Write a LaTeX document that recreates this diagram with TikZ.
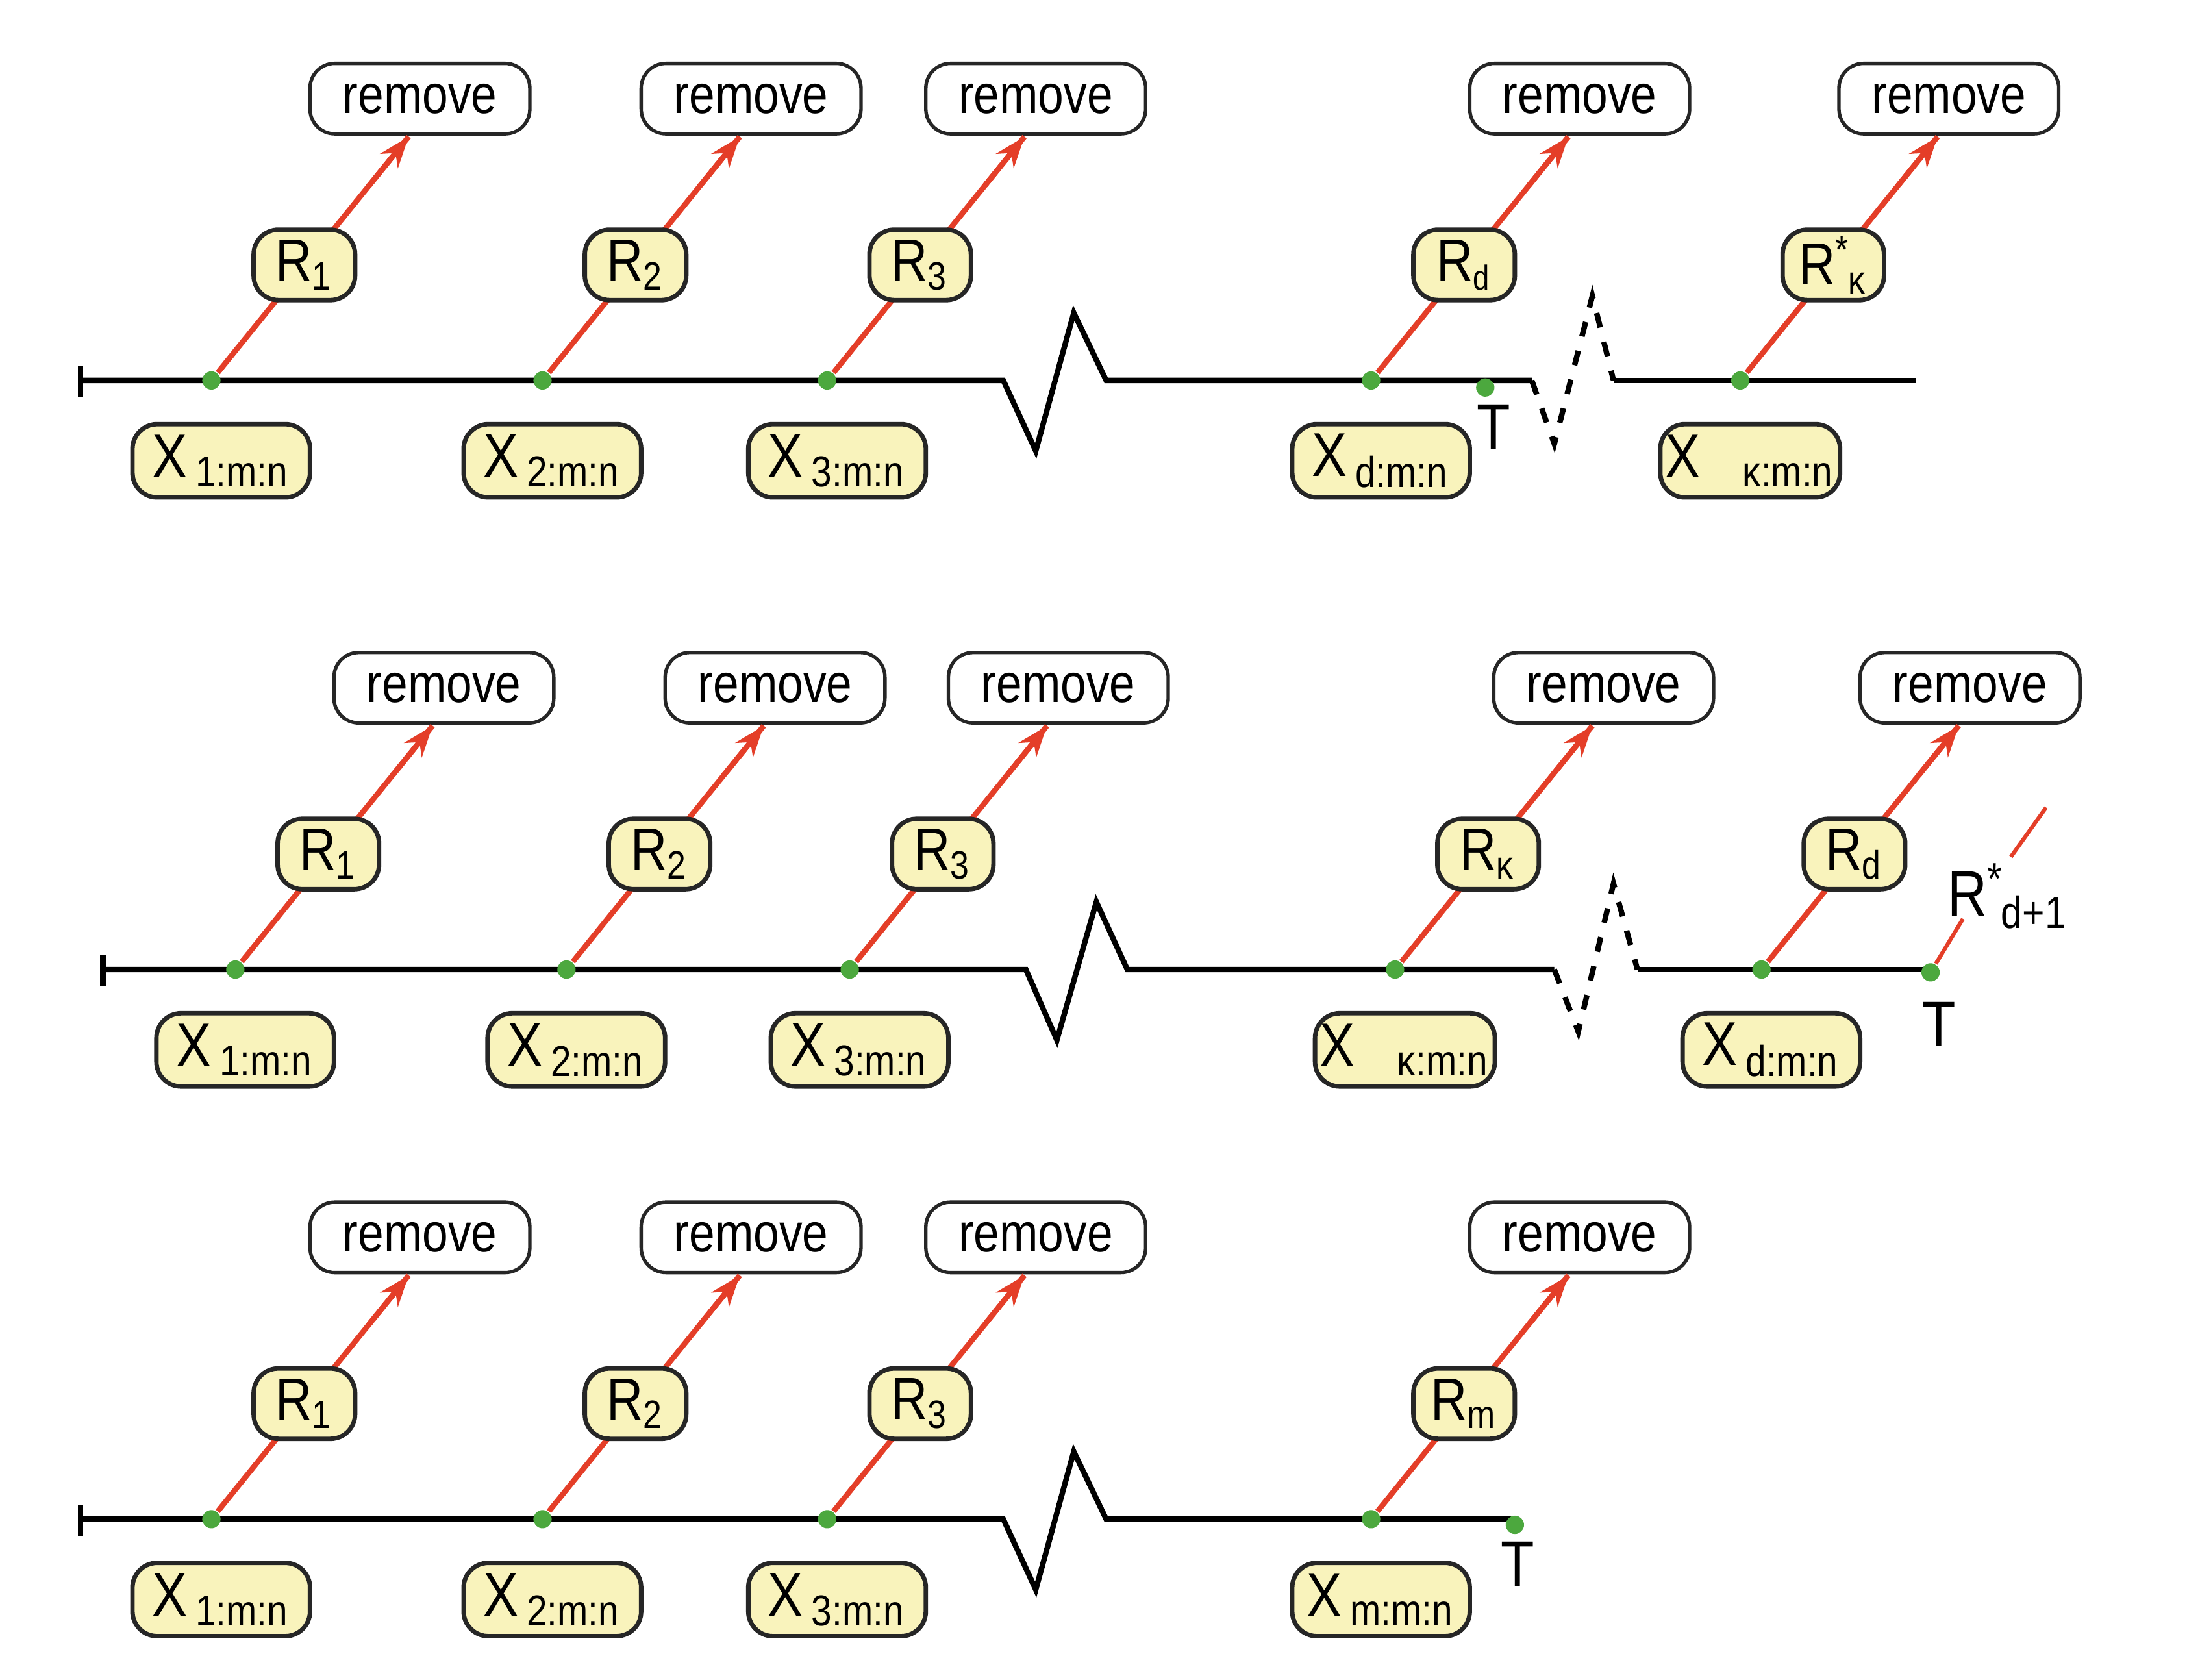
\documentclass[tikz,border=0pt]{standalone}
\usepackage{fontspec}
\setmainfont[FakeStretch=0.85]{Liberation Sans}
\usetikzlibrary{arrows.meta,calc}
\definecolor{boxfill}{RGB}{249,243,188}
\definecolor{dotgreen}{RGB}{76,168,62}
\definecolor{linered}{RGB}{228,62,40}
\tikzset{
  rbox/.style={draw=black!85, fill=boxfill, line width=0.9pt, rounded corners=5pt,
    minimum width=7.2mm, minimum height=5mm, inner sep=1pt, font=\fontsize{12}{12}\selectfont},
  xbox/.style={rbox, minimum width=12.6mm, minimum height=5.2mm, font=\fontsize{12.5}{12.5}\selectfont},
  rmbox/.style={draw=black!85, fill=white, line width=0.7pt, rounded corners=5pt,
    minimum width=15.6mm, minimum height=5mm, font=\fontsize{11}{11}\selectfont},
  dot/.style={circle, fill=dotgreen, inner sep=0pt, minimum size=1.3mm},
  redline/.style={linered, line width=1.1pt},
  axis/.style={line width=1.1pt, black},
  ttext/.style={font=\fontsize{13}{13}\selectfont}
}
% one removal stage: name, x, y, R label, X label
\newcommand\stage[5]{%
  \node[dot] (#1d) at (#2,#3) {};
  \coordinate (#1t) at (#2+140,#3-173);
  \node[rmbox] (#1m) at (#2+148,#3-200) {remove};
  \node[xbox] (#1x) at (#2+7,#3+57) {#5};
  \draw[redline] (#1d) -- (#1t);
  \draw[redline, -{Stealth[length=2.2mm,width=1.6mm]}] ($(#1d)!0.8!(#1t)$) -- (#1t);
  \node[rbox] (#1r) at (#2+66,#3-82) {#4};
}
\newcommand\Rstar[1]{R\textsuperscript{*}\kern-0.05em\textsubscript{#1}}
\begin{document}
\begin{tikzpicture}[x=0.1mm, y=-0.1mm]
\useasboundingbox[fill=white] (0,0) rectangle (1552,1192);

% first row
\draw[axis] (57,260) -- (57,282);
\draw[axis] (57,270) -- (712,270) -- (735,320) -- (762,222) -- (785,270) -- (1087,270);
\draw[axis, dashed] (1087,270) -- (1103,315) -- (1130,210) -- (1145,270);
\draw[axis] (1145,270) -- (1360,270);
\stage{a1}{150}{270}{R\textsubscript{1}}{X\hspace{0.6mm}\textsubscript{1:m:n}}
\stage{a2}{385}{270}{R\textsubscript{2}}{X\hspace{0.6mm}\textsubscript{2:m:n}}
\stage{a3}{587}{270}{R\textsubscript{3}}{X\hspace{0.6mm}\textsubscript{3:m:n}}
\stage{a4}{973}{270}{R\textsubscript{\scriptsize d}}{X\hspace{0.6mm}\textsubscript{d:m:n}}
\stage{a5}{1235}{270}{\Rstar{κ}}{X\hspace{3mm}\textsubscript{κ:m:n}}
\node[dot] (aT) at (1054,275) {};
\node[ttext] (aTl) at (1060,303) {T};

% second row
\draw[axis] (73,678) -- (73,700);
\draw[axis] (73,688) -- (728,688) -- (750,738) -- (778,640) -- (800,688) -- (1103,688);
\draw[axis, dashed] (1103,688) -- (1120,732) -- (1145,627) -- (1162,688);
\draw[axis] (1162,688) -- (1370,688);
\stage{b1}{167}{688}{R\textsubscript{1}}{X\hspace{0.6mm}\textsubscript{1:m:n}}
\stage{b2}{402}{688}{R\textsubscript{2}}{X\hspace{0.6mm}\textsubscript{2:m:n}}
\stage{b3}{603}{688}{R\textsubscript{3}}{X\hspace{0.6mm}\textsubscript{3:m:n}}
\stage{b4}{990}{688}{R\textsubscript{κ}}{X\hspace{3mm}\textsubscript{κ:m:n}}
\stage{b5}{1250}{688}{R\textsubscript{d}}{X\hspace{0.6mm}\textsubscript{d:m:n}}
\node[dot] (bT) at (1370,690) {};
\node[ttext] (bTl) at (1376,727) {T};
\node[ttext, inner sep=0pt] (bR) at (1425,636) {\Rstar{d+1}};
\coordinate (bRlo) at (1393,652);
\coordinate (bRhi) at (1427,608);
\coordinate (bRend) at (1452,573);
\draw[redline, line width=0.8pt] (bT) -- (bRlo);
\draw[redline, line width=0.8pt] (bRhi) -- (bRend);

% third row
\draw[axis] (57,1068) -- (57,1090);
\draw[axis] (57,1078) -- (712,1078) -- (735,1128) -- (762,1030) -- (785,1078) -- (1075,1078);
\stage{c1}{150}{1078}{R\textsubscript{1}}{X\hspace{0.6mm}\textsubscript{1:m:n}}
\stage{c2}{385}{1078}{R\textsubscript{2}}{X\hspace{0.6mm}\textsubscript{2:m:n}}
\stage{c3}{587}{1078}{R\textsubscript{3}}{X\hspace{0.6mm}\textsubscript{3:m:n}}
\stage{c4}{973}{1078}{R\textsubscript{m}}{X\hspace{0.6mm}\textsubscript{m:m:n}}
\node[dot] (cT) at (1075,1082) {};
\node[ttext] (cTl) at (1077,1110) {T};
\end{tikzpicture}
\end{document}
